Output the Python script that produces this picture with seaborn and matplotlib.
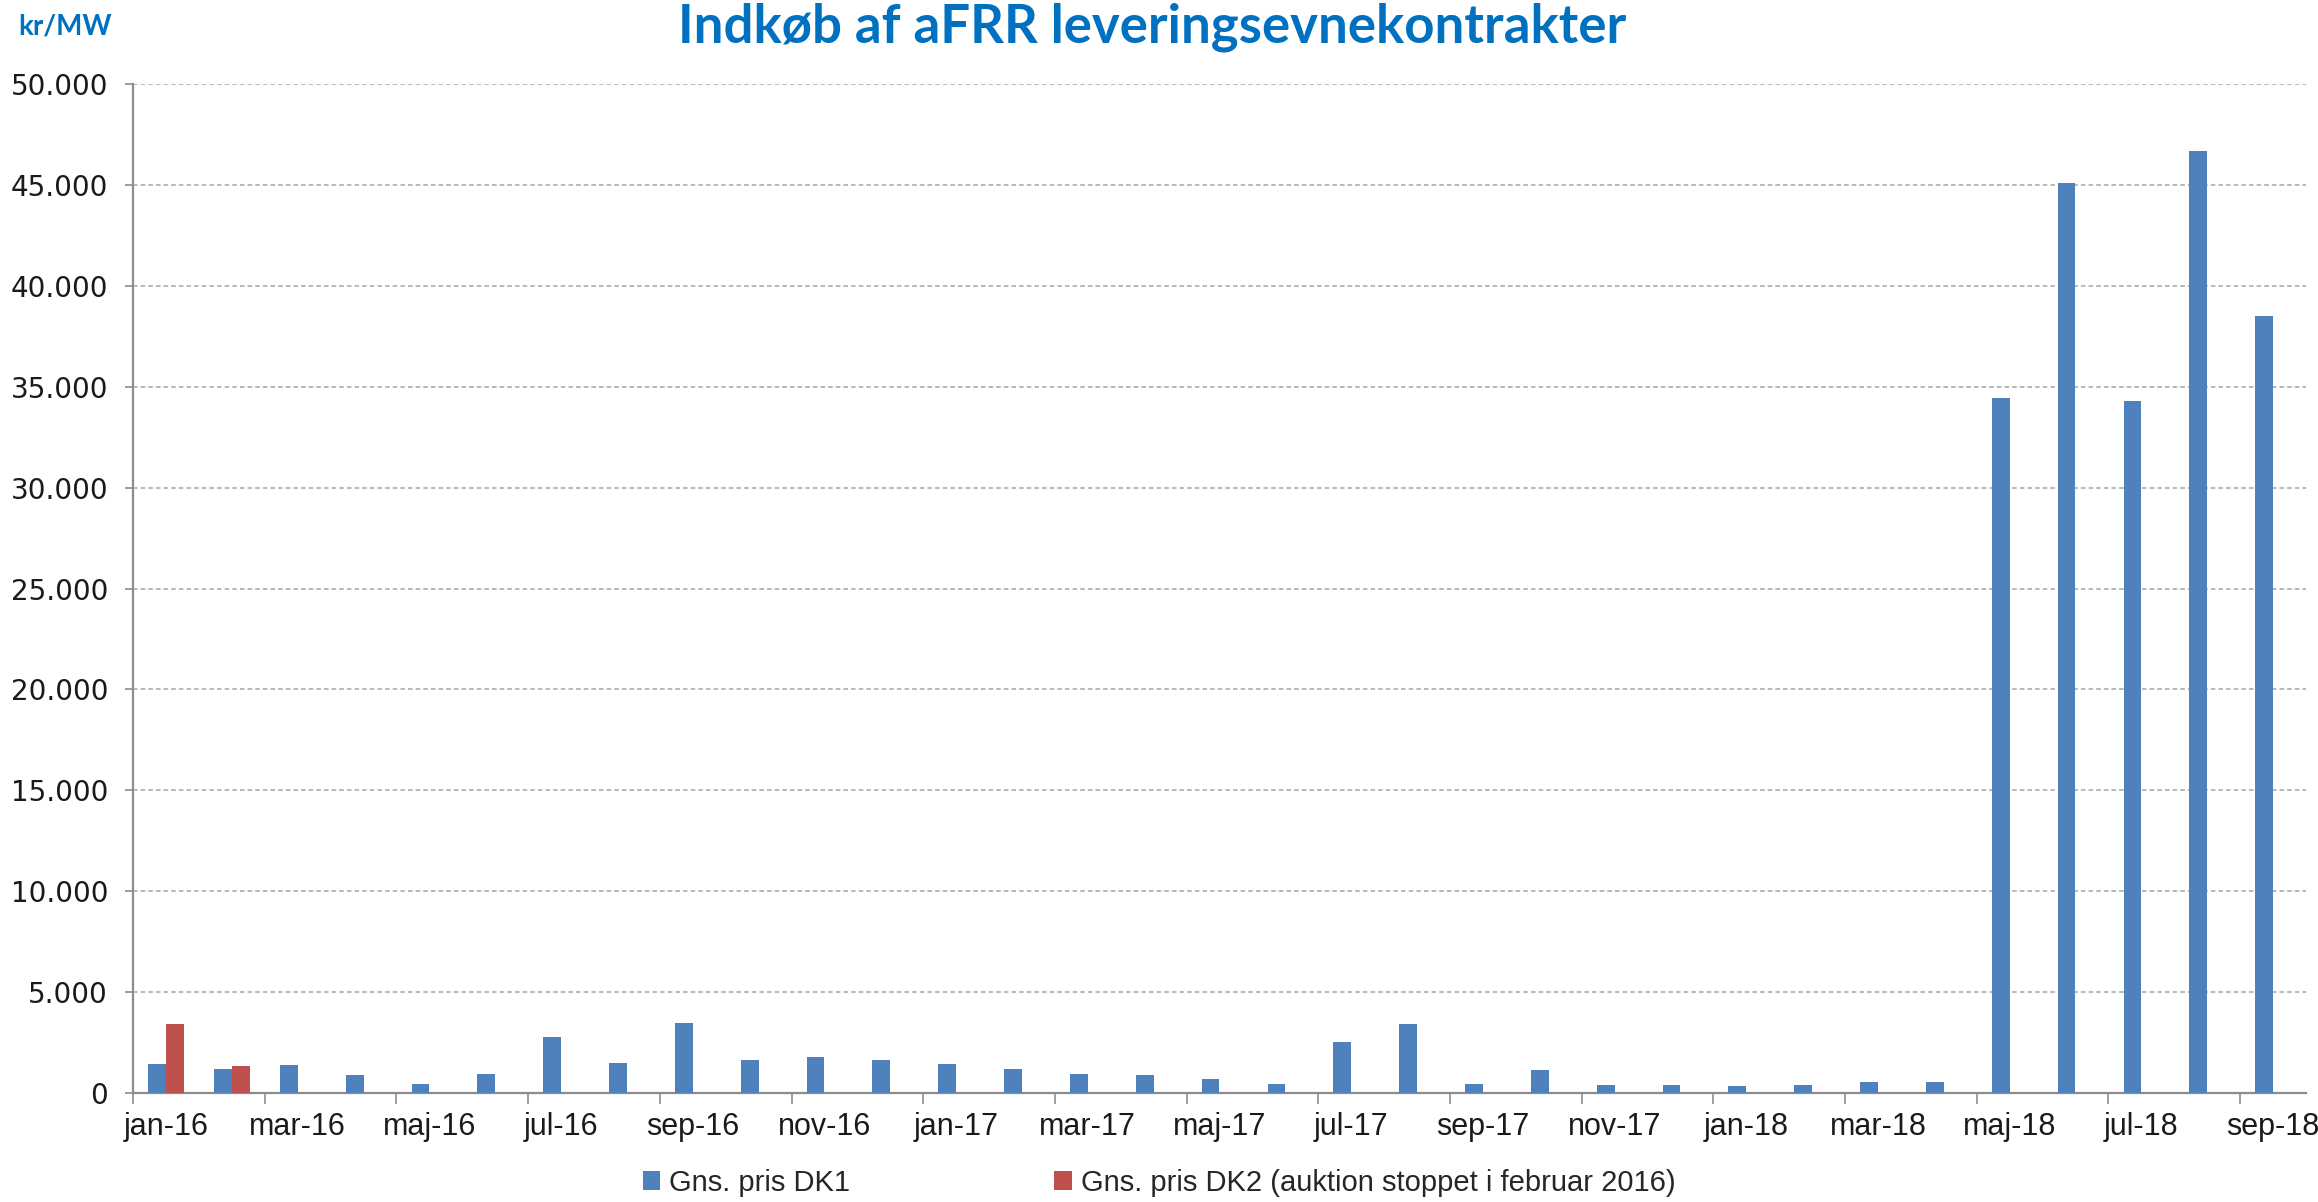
import numpy as np
import pandas as pd
import matplotlib
matplotlib.use("Agg")
import matplotlib.pyplot as plt
from matplotlib.ticker import FixedLocator, FuncFormatter
from matplotlib.patches import Patch
import seaborn as sns


## months jan-16 .. sep-18
months = ['jan-16', 'feb-16', 'mar-16', 'apr-16', 'maj-16', 'jun-16', 'jul-16', 'aug-16',
          'sep-16', 'okt-16', 'nov-16', 'dec-16', 'jan-17', 'feb-17', 'mar-17', 'apr-17',
          'maj-17', 'jun-17', 'jul-17', 'aug-17', 'sep-17', 'okt-17', 'nov-17', 'dec-17',
          'jan-18', 'feb-18', 'mar-18', 'apr-18', 'maj-18', 'jun-18', 'jul-18', 'aug-18',
          'sep-18']

## average price DK1 (kr/MW)
dk1 = [1430, 1200, 1380, 870, 440, 940, 2750, 1510,
       3490, 1630, 1760, 1630, 1450, 1200, 950, 890,
       710, 460, 2550, 3420, 460, 1140, 400, 400,
       330, 400, 520, 520, 34450, 45080, 34300, 46710,
       38520]

## average price DK2, auction stopped feb 2016
dk2 = [3420, 1320] + [np.nan]*31

name_dk1 = 'Gns. pris DK1'
name_dk2 = 'Gns. pris DK2 (auktion stoppet i februar 2016)'

blue = '#4F81BD'
red = '#C0504D'
title_blue = '#0070C0'


df = pd.DataFrame({'Maaned': months*2,
                   'Pris': dk1 + dk2,
                   'Serie': [name_dk1]*len(months) + [name_dk2]*len(months)})

sns.set_style("white")
plt.rcParams['font.family'] = ['DejaVu Sans']

fig = plt.figure(figsize=(23.18, 12.02), dpi=100)
ax = fig.add_axes([0.0574, 0.0907, 0.9374, 0.8393])

sns.barplot(data=df, x='Maaned', y='Pris', hue='Serie', order=months,
            hue_order=[name_dk1, name_dk2], palette=[blue, red], saturation=1,
            width=0.54, dodge=True, linewidth=0, ax=ax, legend=False,
            zorder=3)

ax.set_xlim(-0.5, len(months) - 0.5)
ax.set_ylim(0, 50000)
ax.set_xlabel('')
ax.set_ylabel('')

## y axis
ax.set_yticks(np.arange(0, 50001, 5000))
ax.yaxis.set_major_formatter(FuncFormatter(lambda v, p: f"{v:,.0f}".replace(",", ".")))
ax.tick_params(axis='y', which='major', direction='out', length=6, width=1.2,
               color='#8c8c8c', pad=12, labelsize=20, labelcolor='#1a1a1a', left=True)
ax.yaxis.grid(True, color='#a6a6a6', linestyle=(0, (3, 2)), linewidth=1.1, zorder=0)
ax.xaxis.grid(False)

## x axis: label every second month, tick marks between groups
ax.set_xticks(np.arange(0, len(months), 2))
ax.set_xticklabels(months[::2], family='Liberation Sans', fontsize=22, color='#1a1a1a')
ax.xaxis.set_minor_locator(FixedLocator(np.arange(-0.5, len(months), 2)))
ax.tick_params(axis='x', which='major', length=0, pad=14, bottom=True)
ax.tick_params(axis='x', which='minor', direction='out', length=8, width=1.2,
               color='#8c8c8c', bottom=True)

for s in ['top', 'right']:
    ax.spines[s].set_visible(False)
for s in ['left', 'bottom']:
    ax.spines[s].set_color('#8c8c8c')
    ax.spines[s].set_linewidth(1.6)

## titles
fig.text(0.497, 0.977, 'Indkøb af aFRR leveringsevnekontrakter', ha='center', va='center',
         family='Lato', fontweight='bold', fontsize=38, color=title_blue)
fig.text(0.008, 0.978, 'kr/MW', ha='left', va='center', family='Lato',
         fontweight='bold', fontsize=20, color=title_blue)

## legend
handles = [Patch(facecolor=blue, edgecolor='none'), Patch(facecolor=red, edgecolor='none')]
fig.legend(handles, [name_dk1, name_dk2], loc='center', bbox_to_anchor=(0.5, 0.016),
           ncol=2, frameon=False, handlelength=0.6, handleheight=0.6, handletextpad=0.3,
           columnspacing=7.0, prop={'family': 'Liberation Sans', 'size': 21})

fig.savefig('out.png', dpi=100)
